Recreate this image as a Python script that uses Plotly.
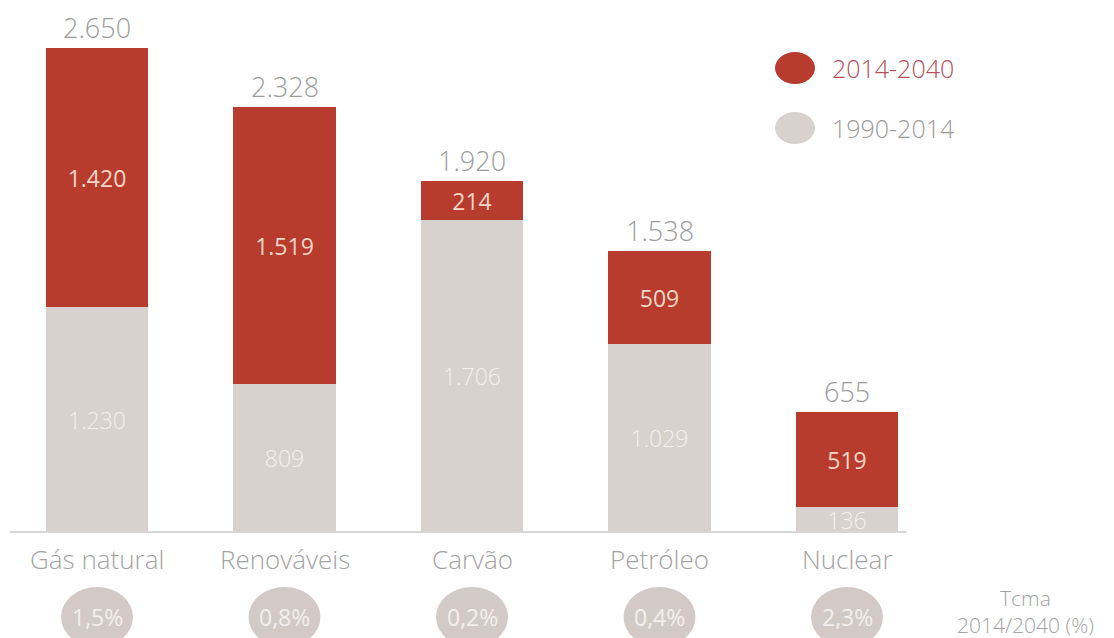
import plotly.graph_objects as go

# Energy sources and demand increments
categories = ["Gás natural", "Renováveis", "Carvão", "Petróleo", "Nuclear"]
base_1990_2014 = [1230, 809, 1706, 1029, 136]
growth_2014_2040 = [1420, 1519, 214, 509, 519]
totals = [2650, 2328, 1920, 1538, 655]
cagr_labels = ["1,5%", "0,8%", "0,2%", "0,4%", "2,3%"]

RED = "#b83c2e"
GRAY = "#d9d1ce"
TEXT_GRAY = "#a3a3a3"
FONT = "Open Sans"

W, H = 1114, 638
baseline_px = 532          # pixel row of the zero line
px_per_unit = 484 / 2650   # vertical scale
px_per_cat = 187.5         # horizontal distance between bars
first_center_px = 97

x_min = -first_center_px / px_per_cat
x_max = x_min + W / px_per_cat
y_max = baseline_px / px_per_unit
y_min = -(H - baseline_px) / px_per_unit

xs = list(range(len(categories)))

fig = go.Figure()

fig.add_trace(go.Bar(
    x=xs, y=base_1990_2014, name="1990-2014",
    marker=dict(color=GRAY, line=dict(width=0)),
    width=0.545,
    texttemplate="%{y:,}", textposition="inside", insidetextanchor="middle",
    textfont=dict(family=FONT, size=23, color="#f4f0ef", weight=300),
    constraintext="none",
))
fig.add_trace(go.Bar(
    x=xs, y=growth_2014_2040, name="2014-2040",
    marker=dict(color=RED, line=dict(width=0)),
    width=0.545,
    texttemplate="%{y:,}", textposition="inside", insidetextanchor="middle",
    textfont=dict(family=FONT, size=23, color="#f7d6c6", weight=400),
    constraintext="none",
))

# Totals above each stack
for i, v in enumerate(totals):
    fig.add_annotation(x=i, y=v, text=f"{v:,}".replace(",", "."), showarrow=False,
                       xanchor="center", yanchor="bottom", yshift=0,
                       font=dict(family=FONT, size=27, color="#9c9c9c", weight=300))

# Category names under the baseline
cat_y = -(559 - baseline_px) / px_per_unit
for i, name in enumerate(categories):
    fig.add_annotation(x=i, y=cat_y, text=name, showarrow=False,
                       font=dict(family=FONT, size=26, color=TEXT_GRAY, weight=300),
                       xanchor="center", yanchor="middle")

# Growth-rate badges
badge_y = -(617 - baseline_px) / px_per_unit
rx = 36 / px_per_cat
ry = 30 / px_per_unit
for i, lab in enumerate(cagr_labels):
    fig.add_shape(type="circle", xref="x", yref="y",
                  x0=i - rx, x1=i + rx, y0=badge_y - ry, y1=badge_y + ry,
                  fillcolor="#d3cac7", line=dict(width=0), layer="below")
    fig.add_annotation(x=i, y=badge_y, text=lab, showarrow=False,
                       font=dict(family=FONT, size=23, color="#f3efee", weight=400),
                       xanchor="center", yanchor="middle")

# Zero line
fig.add_shape(type="line", xref="paper", yref="y",
              x0=10 / W, x1=906 / W, y0=0, y1=0,
              line=dict(color="#d6d6d6", width=2), layer="above")

# Hand-drawn legend
legend_items = [("2014-2040", RED, "#b5505a", 68), ("1990-2014", GRAY, "#9c9c9c", 128)]
for label, fill, tcol, cy in legend_items:
    fig.add_shape(type="circle", xref="paper", yref="paper",
                  x0=775 / W, x1=815 / W,
                  y0=1 - (cy + 16) / H, y1=1 - (cy - 16) / H,
                  fillcolor=fill, line=dict(width=0))
    fig.add_annotation(xref="paper", yref="paper", x=830 / W, y=1 - cy / H,
                       text=label, showarrow=False, xanchor="left", yanchor="middle",
                       font=dict(family=FONT, size=25, color=tcol, weight=300))

fig.add_annotation(xref="paper", yref="paper", x=1025 / W, y=1 - 611 / H,
                   text="Tcma<br>2014/2040 (%)", showarrow=False,
                   xanchor="center", yanchor="middle", align="center",
                   font=dict(family=FONT, size=21, color=TEXT_GRAY, weight=300))

fig.update_layout(
    width=W, height=H,
    margin=dict(l=0, r=0, t=0, b=0),
    barmode="stack",
    separators=",.",
    showlegend=False,
    plot_bgcolor="white", paper_bgcolor="white",
    xaxis=dict(range=[x_min, x_max], visible=False, fixedrange=True),
    yaxis=dict(range=[y_min, y_max], visible=False, fixedrange=True),
)

fig.write_html("out.html")
